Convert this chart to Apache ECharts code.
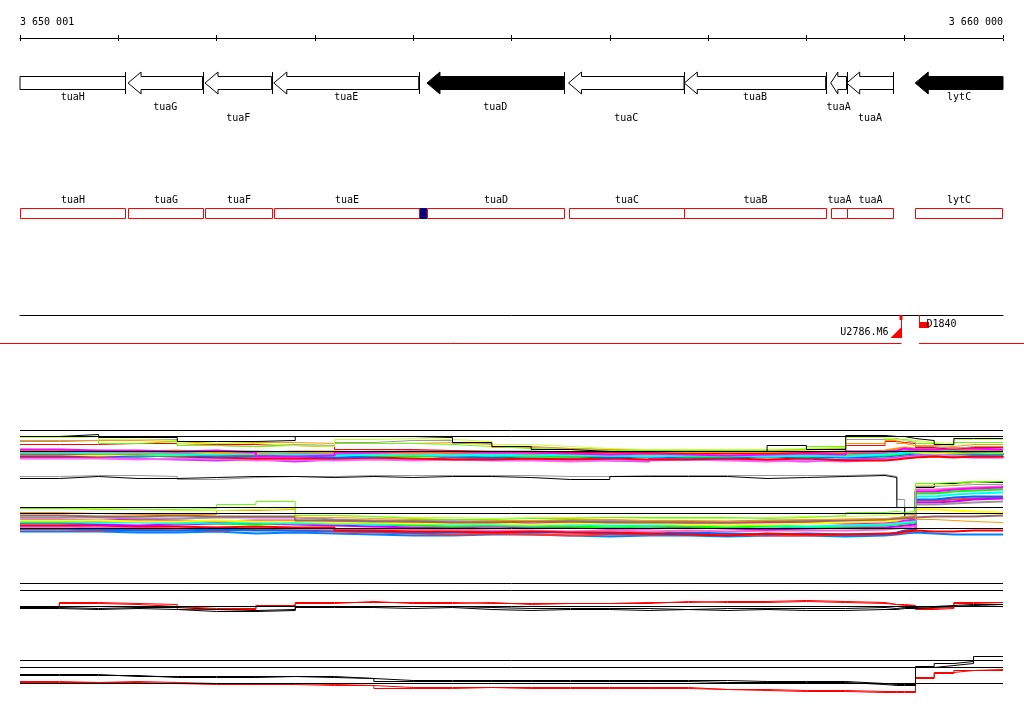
<!DOCTYPE html>
<html><head><meta charset="utf-8">
<script src="https://cdn.jsdelivr.net/npm/echarts@6/dist/echarts.min.js"></script>
<style>html,body{margin:0;padding:0;background:#fff}#c{width:1024px;height:714px}</style>
</head><body><div id="c"></div>
<script>
// ---------- view / scale ----------
const viewStart = 3650000, viewEnd = 3660000, tickStep = 1000;
const tickLabels = ['3 650 001', '3 660 000'];

// ---------- genes ----------
const geneNames  = ['tuaH','tuaG','tuaF','tuaE','tuaD','tuaC','tuaB','tuaA','tuaA','lytC'];
const geneStart  = [3649500,3651099,3651882,3652582,3654140,3655580,3656758,3658248,3658410,3659107];
const geneEnd    = [3651073,3651857,3652560,3654056,3655531,3656755,3658196,3658408,3658886,3660400];
const geneStrand = ['-','-','-','-','-','-','-','-','-','-'];
const geneFilled = [0,0,0,0,1,0,0,0,0,1];

// ---------- small site in annotation track ----------
const siteStart = [3654056];
const siteEnd   = [3654140];

// ---------- markers ----------
const markerNames = ['U2786.M6','D1840'];
const markerPos   = [3658962, 3659149];
const markerSide  = ['left','right'];

// ---------- probe profiles ----------
const probeX = [3650000,3650400,3650800,3651200,3651600,3652000,3652400,3652800,3653200,3653600,3654000,3654400,3654800,3655200,3655600,3656000,3656400,3656800,3657200,3657600,3658000,3658400,3658800,3658920,3659000,3659110,3659300,3659500,3659700,3660000];
const refLevels = [269,263,248,192,186,171,116,109,93,39,32,16];

// band 1 (upper spread)
const b1Black  = [263,265,262,262,258,258,259,263,263,263,262,257,253,250,248,248,248,248,248,254,250,264,263,263,261,259,255,261,261,261];
const b1Yellow = [262,263,260,259,256,256,254,253,260,261,260,258,255,253,251,250,250,250,250,251,252,262,260,259,259,257,256,260,260,260];
const b1Green  = [262,263,256,258,254,253,254,253,256,256,255,253,251,250,249,249,249,249,249,250,253,263,260,260,259,256,254,257,257,257];
const b1Orange = [259,259,259,258,256,257,257,256,256,256,257,255,252,251,250,249,249,249,249,250,252,256,259,256,254,254,253,255,255,255];
const b1Gray   = [258,259,260,260,254,253,255,254,257,259,259,256,253,251,250,249,249,249,249,250,251,260,261,259,257,253,251,253,253,253];
const b1Red    = [255,255,256,256,255,255,254,253,250,250,249,248,248,247,247,247,246,246,246,247,248,254,258,257,256,252,250,252,252,252];
// band 1 (dense bundle)
const b1Magenta = [250,249,249,248,249,247,243,244,247,248,248,247,247,246,245,246,245,244,245,246,245,248,249,251,250,250,251,251,250,250];
const b1Cyan    = [247,246,246,245,245,246,245,244,245,245,244,245,244,245,244,243,244,244,243,244,243,245,246,247,248,248,249,248,248,248];
const b1Blue    = [244,244,243,244,243,243,243,242,243,244,243,242,243,243,242,243,242,242,243,242,242,243,244,245,246,246,246,245,245,246];
const b1Purple  = [242,242,241,240,239,240,238,240,241,240,242,241,240,241,239,238,241,240,239,238,240,241,242,243,244,244,243,242,242,242];
const b1Brown   = [245,246,245,246,244,244,245,245,246,247,246,246,245,246,247,246,246,247,246,246,246,246,247,248,249,248,248,247,248,248];
const b1Gray2   = [248,248,247,247,248,248,247,247,248,248,248,248,248,247,247,248,247,247,248,247,248,247,249,250,250,250,250,249,249,249];
const b1Red2    = [243,243,244,243,242,241,241,241,242,241,240,240,241,240,241,240,240,241,240,241,239,239,240,241,242,243,242,243,243,242];
const b1Green2  = [246,245,244,244,245,245,246,245,244,243,244,244,243,243,244,244,243,243,244,243,244,244,245,246,247,247,246,246,246,245];
const b1Orange2 = [249,248,248,249,247,247,248,248,247,246,247,247,246,247,248,247,248,246,247,248,247,249,251,252,251,251,251,250,250,250];
const b1Pink    = [241,241,240,241,241,239,240,239,240,239,240,239,239,238,239,239,240,239,238,239,238,240,241,242,243,243,244,244,243,243];
const b1Yellow2 = [245,244,245,245,246,245,244,246,245,245,245,245,246,245,246,245,245,245,246,245,247,247,248,248,247,246,247,247,247,247];
// middle pair
const midBlack = [221,223,221,221,222,223,223,222,223,222,223,223,222,220,220,223,223,223,221,222,223,224,222,192,181,212,216,217,217,217];
const midGray  = [223,224,224,223,220,222,223,223,224,224,224,224,224,223,223,224,224,224,224,224,224,225,223,200,185,213,214,215,215,215];
// band 2
const b2Green   = [191,190,190,190,191,195,198,184,183,181,180,180,181,181,182,182,182,182,181,182,184,187,188,187,188,216,217,218,218,219];
const b2Yellow  = [191,191,190,189,189,190,191,184,183,182,182,181,182,182,182,181,181,181,182,183,183,184,185,186,187,214,215,217,218,218];
const b2Orange  = [187,186,185,185,185,189,190,182,181,180,180,179,179,180,180,179,179,178,179,180,180,181,182,183,184,180,179,178,177,177];
const b2Magenta = [180,179,180,179,178,179,179,178,178,177,178,177,176,177,178,177,176,176,177,177,176,177,178,179,180,208,210,211,212,212];
const b2Cyan    = [178,177,177,176,177,177,176,176,175,176,175,175,174,175,174,174,175,175,174,173,174,175,176,177,178,203,205,206,207,207];
const b2Blue    = [171,170,169,169,170,169,169,169,168,167,167,168,167,167,166,166,167,166,165,166,165,165,167,169,170,200,202,203,203,203];
const b2Red     = [174,174,173,173,172,173,172,172,169,168,168,167,168,167,167,166,165,164,166,165,165,166,166,168,169,168,168,169,169,169];
const b2Purple  = [176,175,174,175,176,176,175,174,173,172,172,173,172,172,171,171,172,171,170,171,172,172,173,174,175,197,198,200,201,201];
const b2Gray    = [182,182,181,181,182,182,182,180,179,179,178,178,178,179,179,178,178,178,179,179,180,180,181,182,183,195,196,197,198,198];
const b2Brown   = [184,183,183,184,183,183,183,179,178,178,177,177,178,178,177,177,177,177,178,178,179,180,181,181,182,183,183,183,184,184];
const b2Pink    = [173,172,172,171,172,172,171,170,171,170,170,169,169,168,169,168,169,168,169,169,169,170,171,172,173,210,211,212,213,213];
const b2Green2  = [177,177,178,177,176,175,177,176,175,174,173,174,173,173,172,173,173,172,173,172,173,174,175,176,177,206,208,209,210,210];
const b2Blue2   = [168,168,167,167,168,166,167,166,165,164,164,165,165,164,163,164,164,163,164,164,163,164,165,166,167,166,165,165,165,165];
const b2Red2    = [170,169,170,170,169,170,169,168,167,166,165,166,165,164,165,165,166,165,164,164,165,165,166,167,169,199,200,201,202,202];
const b2Yellow2 = [179,179,178,178,179,178,178,177,177,176,176,176,175,176,176,176,175,175,175,176,177,178,179,181,182,190,189,188,187,187];
// band 3
const b3RedA   = [93,96,95,93,91,91,94,97,97,97,97,96,96,96,96,97,97,98,98,99,98,97,95,95,94,91,92,97,97,97];
const b3RedB   = [92,97,96,95,90,90,93,96,98,96,96,97,95,96,96,96,98,97,97,98,97,96,95,94,94,90,91,96,97,97];
const b3BlackA = [92,91,92,92,90,89,90,93,93,93,93,92,91,91,91,91,90,91,91,91,91,92,91,92,92,93,94,95,95,95];
const b3BlackB = [91,90,91,90,88,88,89,92,92,91,92,90,89,90,90,89,90,89,90,89,89,90,90,91,91,92,93,94,93,93];
// band 4
const b4BlackA = [25,25,23,23,23,23,23,23,21,19,19,19,19,19,19,19,19,19,18,18,18,16,15,15,15,33,36,38,43,43];
const b4BlackB = [24,24,24,22,22,22,23,22,21,18,18,18,18,18,18,18,18,17,17,17,17,15,14,14,14,32,34,36,39,39];
const b4RedA   = [18,17,18,17,16,16,16,15,14,12,12,12,12,12,12,12,12,10,10,9,9,8,8,8,8,22,27,29,30,30];
const b4RedB   = [17,17,17,16,15,15,15,14,14,11,11,12,11,11,11,11,11,10,9,8,8,7,7,7,7,21,26,29,29,29];

// ---------- build ----------
const FONT = '10px "DejaVu Sans Mono", monospace';
// [values, colour, dense-bundle flag]
const profiles = [
  [b1Purple,'#cc33ff',1],[b1Pink,'#ff66ff',1],[b1Red2,'#ff0000',1],[b1Blue,'#0066ff',1],[b1Green2,'#00ff00',1],
  [b1Yellow2,'#ffff00',1],[b1Brown,'#996666',1],[b1Cyan,'#00ffff',1],[b1Gray2,'#999999',1],[b1Orange2,'#ff9900',1],[b1Magenta,'#ff00ff',1],
  [b1Red,'#ff0000',0],[b1Gray,'#999999',0],[b1Orange,'#ff9900',0],[b1Green,'#66ff00',0],[b1Yellow,'#ccff33',0],[b1Black,'#000000',0],
  [midGray,'#999999',0],[midBlack,'#000000',0],
  [b2Blue2,'#0080ff',1],[b2Red2,'#ff3333',1],[b2Blue,'#0066ff',1],[b2Pink,'#ff66cc',1],[b2Red,'#ff0000',1],[b2Purple,'#cc00ff',1],
  [b2Green2,'#00ff00',1],[b2Cyan,'#00ffff',1],[b2Magenta,'#ff00ff',1],[b2Yellow2,'#ffff00',1],[b2Gray,'#999999',1],[b2Brown,'#996666',1],
  [b2Orange,'#ff9900',0],[b2Yellow,'#ccff33',0],[b2Green,'#66ff00',0],
  [b3RedA,'#ff0000',0],[b3RedB,'#ff0000',0],[b3BlackA,'#000000',0],[b3BlackB,'#000000',0],
  [b4RedA,'#ff0000',0],[b4RedB,'#ff0000',0],[b4BlackA,'#000000',0],[b4BlackB,'#000000',0]
];

function hiddenX(grid){return {type:'value',gridIndex:grid,min:viewStart,max:viewEnd,show:false};}
function hiddenY(grid,min,max){return {type:'value',gridIndex:grid,min:min,max:max,show:false};}

function renderArrow(params, api){
  const i = params.dataIndex, c = params.coordSys;
  const left = c.x, right = c.x + c.width;
  const p1 = api.coord([api.value(0), 0]), p2 = api.coord([api.value(1), 0]);
  const yc = p1[1];
  const bodyH = 6.5, headH = 11;
  const rev = geneStrand[i] === '-';
  const tip = rev ? p1[0] : p2[0], tail = rev ? p2[0] : p1[0];
  const dir = rev ? 1 : -1;
  const len = Math.abs(p2[0]-p1[0]);
  const head = Math.min(13, len*0.45);
  const clamp = v => Math.max(left, Math.min(right, v));
  const vt = clamp(tail);
  let pts;
  if (tip >= left && tip <= right) {
    const hb = tip + dir*head;
    pts = [[tip,yc],[hb,yc-headH],[hb,yc-bodyH],[vt,yc-bodyH],[vt,yc+bodyH],[hb,yc+bodyH],[hb,yc+headH]];
  } else {
    const vtip = clamp(tip);
    pts = [[vtip,yc-bodyH],[vt,yc-bodyH],[vt,yc+bodyH],[vtip,yc+bodyH]];
  }
  const ch = [{type:'polygon',shape:{points:pts},style:{fill:geneFilled[i]?'#000':'#fff',stroke:'#000',lineWidth:1}}];
  if (tail >= left && tail <= right) {
    const tx = Math.round(tail)+0.5;
    ch.push({type:'line',shape:{x1:tx,y1:yc-headH,x2:tx,y2:yc+headH},style:{stroke:'#000',lineWidth:1}});
  }
  const cx = (clamp(p1[0]) + clamp(p2[0]))/2;
  ch.push({type:'text',style:{text:geneNames[i],x:cx,y:yc+14+(i%3)*10.5,align:'center',verticalAlign:'middle',font:FONT,fill:'#000'}});
  return {type:'group',children:ch};
}

function renderBox(params, api){
  const i = params.dataIndex, c = params.coordSys;
  const left = c.x, right = c.x + c.width;
  const p1 = api.coord([api.value(0), 0]), p2 = api.coord([api.value(1), 0]);
  const yc = p1[1];
  const x1 = Math.round(Math.max(left, p1[0]))+0.5, x2 = Math.round(Math.min(right-1, p2[0]))+0.5;
  return {type:'group',children:[
    {type:'rect',shape:{x:x1,y:Math.round(yc-5)+0.5,width:x2-x1,height:10},style:{fill:'#fff',stroke:'#ff0000',lineWidth:1}},
    {type:'text',style:{text:geneNames[i],x:(x1+x2)/2,y:yc-12.5,align:'center',verticalAlign:'middle',font:FONT,fill:'#000'}}
  ]};
}

function renderSite(params, api){
  const p1 = api.coord([api.value(0), 0]), p2 = api.coord([api.value(1), 0]);
  const yc = p1[1];
  return {type:'rect',shape:{x:p1[0],y:Math.round(yc-5),width:p2[0]-p1[0],height:11},style:{fill:'#000080'}};
}

function renderMarker(params, api){
  const i = params.dataIndex;
  const p = api.coord([api.value(0), 1]);
  const x = Math.round(p[0])+0.5, y0 = p[1];
  const W = api.getWidth();
  const red = '#ff0000';
  const ch = [];
  if (markerSide[i] === 'left') {
    ch.push({type:'rect',shape:{x:x-2,y:y0,width:3,height:5},style:{fill:red}});
    ch.push({type:'line',shape:{x1:x,y1:y0,x2:x,y2:y0+23},style:{stroke:red,lineWidth:1}});
    ch.push({type:'polygon',shape:{points:[[x-11,y0+23],[x,y0+23],[x,y0+12]]},style:{fill:red}});
    ch.push({type:'text',style:{text:markerNames[i],x:x-13,y:y0+17.5,align:'right',verticalAlign:'middle',font:FONT,fill:'#000'}});
    ch.push({type:'line',shape:{x1:0,y1:y0+28.5,x2:x,y2:y0+28.5},style:{stroke:red,lineWidth:1}});
  } else {
    ch.push({type:'line',shape:{x1:x,y1:y0,x2:x,y2:y0+7},style:{stroke:red,lineWidth:1}});
    ch.push({type:'rect',shape:{x:x-0.5,y:y0+7,width:10,height:6},style:{fill:red}});
    ch.push({type:'text',style:{text:markerNames[i],x:x+7,y:y0+9.5,align:'left',verticalAlign:'middle',font:FONT,fill:'#000'}});
    ch.push({type:'line',shape:{x1:x-0.5,y1:y0+28.5,x2:W,y2:y0+28.5},style:{stroke:red,lineWidth:1}});
  }
  return {type:'group',children:ch};
}

const L = 20, R = 21;
const option = {
  animation:false,
  backgroundColor:'#fff',
  textStyle:{fontFamily:'"DejaVu Sans Mono", monospace',fontSize:10,color:'#000'},
  grid:[
    {left:L,right:R,top:38,height:1},
    {left:L,right:R,top:72,height:22},
    {left:L,right:R,top:207,height:11},
    {left:L,right:R,top:315,height:30},
    {left:L,right:R,top:420,height:280}
  ],
  xAxis:[
    {type:'value',gridIndex:0,position:'top',min:viewStart,max:viewEnd,interval:tickStep,
     axisLine:{show:true,onZero:false,lineStyle:{color:'#000',width:1}},
     axisTick:{show:true,length:3,lineStyle:{color:'#000'}},
     splitLine:{show:false},
     axisLabel:{show:true,margin:11,fontSize:10,fontFamily:'"DejaVu Sans Mono", monospace',color:'#000',
       showMinLabel:true,showMaxLabel:true,alignMinLabel:'left',alignMaxLabel:'right',
       formatter:v => v===viewStart ? tickLabels[0] : (v===viewEnd ? tickLabels[1] : '')}},
    {type:'value',gridIndex:0,position:'bottom',min:viewStart,max:viewEnd,interval:tickStep,
     axisLine:{show:false,onZero:false},axisTick:{show:true,length:2,lineStyle:{color:'#000'}},
     axisLabel:{show:false},splitLine:{show:false}},
    hiddenX(1), hiddenX(2),
    {type:'value',gridIndex:3,position:'top',min:viewStart,max:viewEnd,
     axisLine:{show:true,onZero:false,lineStyle:{color:'#000',width:1}},axisTick:{show:false},axisLabel:{show:false},splitLine:{show:false}},
    hiddenX(4)
  ],
  yAxis:[hiddenY(0,0,1),hiddenY(1,-1,1),hiddenY(2,-1,1),hiddenY(3,0,1),hiddenY(4,-0.5,279.5)],
  series:[]
};

option.series.push({type:'custom',xAxisIndex:2,yAxisIndex:1,silent:true,clip:false,renderItem:renderArrow,
  data:geneStart.map((s,i)=>[s,geneEnd[i]])});
option.series.push({type:'custom',xAxisIndex:3,yAxisIndex:2,silent:true,clip:false,renderItem:renderSite,
  data:siteStart.map((s,i)=>[s,siteEnd[i]])});
option.series.push({type:'custom',xAxisIndex:3,yAxisIndex:2,silent:true,clip:false,renderItem:renderBox,
  data:geneStart.map((s,i)=>[s,geneEnd[i]])});
option.series.push({type:'custom',xAxisIndex:4,yAxisIndex:3,silent:true,clip:false,renderItem:renderMarker,
  data:markerPos.map(p=>[p])});
option.series.push({type:'line',xAxisIndex:5,yAxisIndex:4,silent:true,symbol:'none',data:[],
  lineStyle:{opacity:0},
  markLine:{silent:true,symbol:'none',label:{show:false},lineStyle:{color:'#000',width:1,type:'solid'},
    data:refLevels.map(v=>({yAxis:v}))}});
profiles.forEach(([vals,color,dense])=>{
  option.series.push({type:'line',xAxisIndex:5,yAxisIndex:4,silent:true,symbol:'none',step:'end',
    lineStyle:{color:color,width:dense?2:1},itemStyle:{color:color},
    data:probeX.map((x,i)=>[x,vals[i]])});
});

const chart = echarts.init(document.getElementById('c'),null,{renderer:'canvas'});
chart.setOption(option);
</script></body></html>
